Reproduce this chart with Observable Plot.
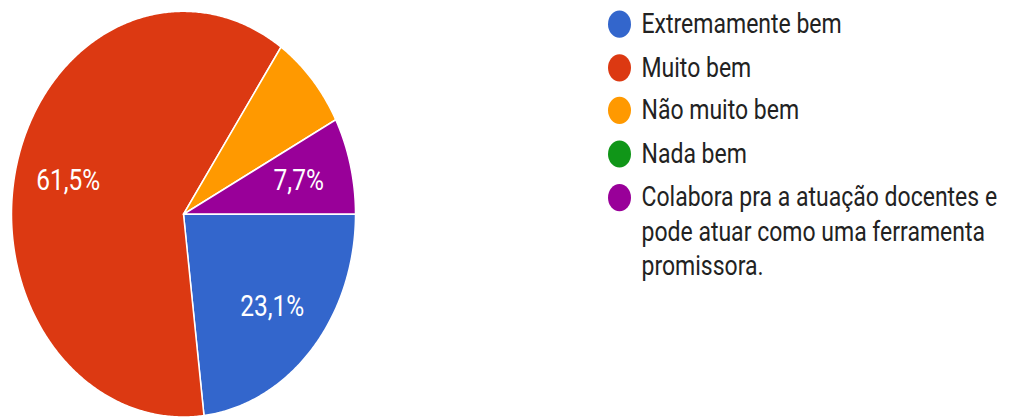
<!DOCTYPE html>
<html>
<head>
<meta charset="utf-8">
<script src="https://cdn.jsdelivr.net/npm/d3@7"></script>
<script src="https://cdn.jsdelivr.net/npm/@observablehq/plot@0.6"></script>
<style>
  html, body { margin: 0; padding: 0; background: #fff; height: 419px; overflow: hidden; }
  #wrap { position: relative; width: 1012px; height: 355px; transform: scale(1, 1.18); transform-origin: 0 0; font-family: Roboto, sans-serif; }
  #chart { position: absolute; left: 0; top: 0; }
  #legend { position: absolute; left: 608px; top: 6px; }
  .item { display: flex; align-items: flex-start; margin-bottom: 7.7px; }
  .dot { width: 23px; height: 23px; border-radius: 50%; flex: none; margin-top: 3px; margin-right: 10.5px; }
  .txt { font-size: 23px; line-height: 29px; color: #222; width: 368px; }
</style>
</head>
<body>
<div id="wrap">
  <div id="chart"></div>
  <div id="legend"></div>
</div>
<script>
const categories = [
  "Extremamente bem",
  "Muito bem",
  "Não muito bem",
  "Nada bem",
  "Colabora pra a atuação docentes e pode atuar como uma ferramenta promissora."
];
const percentages = [23.1, 61.5, 7.7, 0, 7.7];
const colors = ["#3366cc", "#dc3912", "#ff9900", "#109618", "#990099"];
const showLabel = [true, true, false, false, true];

const total = d3.sum(percentages);
const fmt = v => v.toFixed(1).replace(".", ",") + "%";

const pts = [];
const labels = [];
let a = Math.PI / 2; // start at 3 o'clock, clockwise
categories.forEach((cat, i) => {
  const v = percentages[i];
  if (!v) return;
  const a0 = a, a1 = a + v / total * 2 * Math.PI;
  a = a1;
  pts.push({cat, x: 0, y: 0});
  const n = Math.max(2, Math.ceil((a1 - a0) / (Math.PI / 360)));
  for (let k = 0; k <= n; k++) {
    const t = a0 + (a1 - a0) * k / n;
    pts.push({cat, x: Math.sin(t), y: Math.cos(t)});
  }
  pts.push({cat, x: 0, y: 0});
  if (showLabel[i]) {
    const m = (a0 + a1) / 2;
    labels.push({x: 0.69 * Math.sin(m), y: 0.69 * Math.cos(m), text: fmt(v)});
  }
});

const plot = Plot.plot({
  width: 370,
  height: 355,
  margin: 0,
  x: {domain: [-1, 1], range: [11, 355], axis: null},
  y: {domain: [-1, 1], range: [353, 9], axis: null},
  color: {domain: categories, range: colors},
  style: {fontFamily: "Roboto, sans-serif", background: "transparent", overflow: "visible"},
  marks: [
    Plot.line(pts, {x: "x", y: "y", z: "cat", fill: "cat", stroke: "white", strokeWidth: 1.5, strokeLinejoin: "round"}),
    Plot.text(labels, {x: "x", y: "y", text: "text", fill: "white", fontSize: 24.5, textAnchor: "middle", lineAnchor: "middle"})
  ]
});
document.getElementById("chart").appendChild(plot);

const legend = document.getElementById("legend");
categories.forEach((cat, i) => {
  const item = document.createElement("div");
  item.className = "item";
  const dot = document.createElement("div");
  dot.className = "dot";
  dot.style.background = colors[i];
  const txt = document.createElement("div");
  txt.className = "txt";
  txt.textContent = cat;
  item.appendChild(dot);
  item.appendChild(txt);
  legend.appendChild(item);
});
</script>
</body>
</html>
